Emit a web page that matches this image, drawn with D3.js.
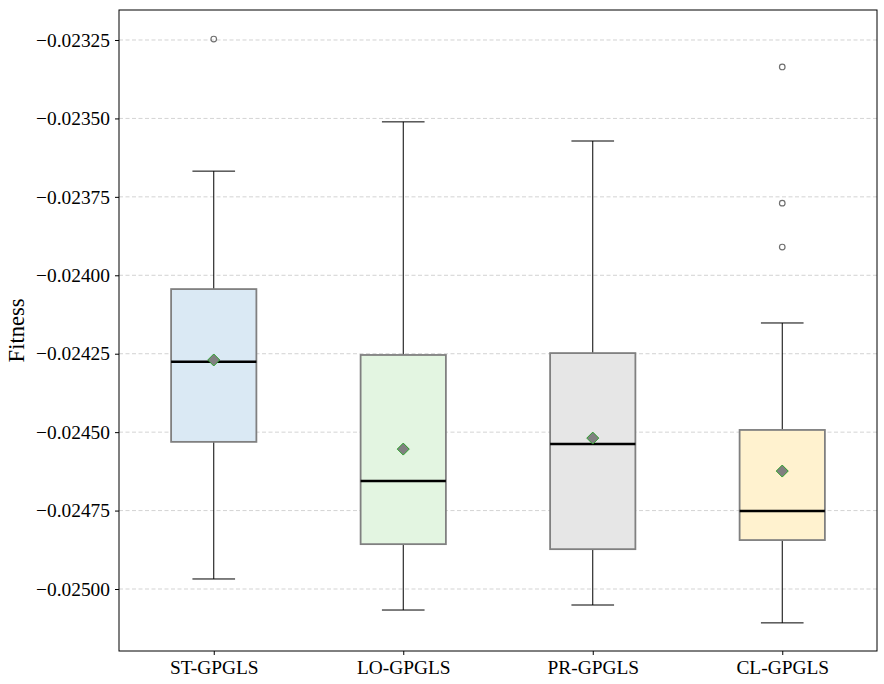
<!DOCTYPE html>
<html>
<head>
<meta charset="utf-8">
<script src="https://cdn.jsdelivr.net/npm/d3@7"></script>
<style>
  body { margin: 0; background: #fff; }
  svg text { font-family: "Liberation Serif", "Times New Roman", serif; }
</style>
</head>
<body>
<svg id="chart" width="884" height="684"></svg>
<script>
// DATA
const methods = ["ST-GPGLS", "LO-GPGLS", "PR-GPGLS", "CL-GPGLS"];
const whiskerHigh = [-0.023668, -0.023511, -0.023572, -0.024152];
const q3 = [-0.024044, -0.024254, -0.024248, -0.024493];
const median = [-0.024276, -0.024656, -0.024538, -0.024751];
const mean = [-0.02427, -0.024554, -0.024519, -0.024624];
const q1 = [-0.024531, -0.024857, -0.024873, -0.024844];
const whiskerLow = [-0.024968, -0.025067, -0.025051, -0.025108];
const outliers = [[-0.023247], [], [], [-0.023336, -0.02377, -0.02391]];
const yTicks = [-0.02325, -0.0235, -0.02375, -0.024, -0.02425, -0.0245, -0.02475, -0.025];
const boxColors = ["#dae9f4", "#e3f5e1", "#e6e6e6", "#fff2cf"];

// LAYOUT
const plotLeft = 119, plotRight = 877, plotTop = 10, plotBottom = 651;
const svg = d3.select("#chart");

const x = d3.scaleLinear().domain([0.5, 4.5]).range([plotLeft, plotRight]);
const y = d3.scaleLinear().domain([-0.0251976, -0.0231544]).range([plotBottom, plotTop]);
const unit = x(2) - x(1);
const boxW = unit * 0.45;
const capW = boxW / 2;

// grid
svg.append("g")
  .selectAll("line")
  .data(yTicks)
  .join("line")
  .attr("x1", plotLeft)
  .attr("x2", plotRight)
  .attr("y1", d => y(d))
  .attr("y2", d => y(d))
  .attr("stroke", "#c8c8c8")
  .attr("stroke-width", 0.8)
  .attr("stroke-dasharray", "4,2.5");

// boxes
methods.forEach((m, i) => {
  const cx = x(i + 1);
  const g = svg.append("g");

  // whiskers
  g.append("line")
    .attr("x1", cx).attr("x2", cx)
    .attr("y1", y(q3[i])).attr("y2", y(whiskerHigh[i]))
    .attr("stroke", "black").attr("stroke-width", 1);
  g.append("line")
    .attr("x1", cx).attr("x2", cx)
    .attr("y1", y(q1[i])).attr("y2", y(whiskerLow[i]))
    .attr("stroke", "black").attr("stroke-width", 1);
  g.append("line")
    .attr("x1", cx - capW / 2).attr("x2", cx + capW / 2)
    .attr("y1", y(whiskerHigh[i])).attr("y2", y(whiskerHigh[i]))
    .attr("stroke", "black").attr("stroke-width", 1);
  g.append("line")
    .attr("x1", cx - capW / 2).attr("x2", cx + capW / 2)
    .attr("y1", y(whiskerLow[i])).attr("y2", y(whiskerLow[i]))
    .attr("stroke", "black").attr("stroke-width", 1);

  // box
  g.append("rect")
    .attr("x", cx - boxW / 2)
    .attr("y", y(q3[i]))
    .attr("width", boxW)
    .attr("height", y(q1[i]) - y(q3[i]))
    .attr("fill", boxColors[i])
    .attr("stroke", "#808080")
    .attr("stroke-width", 1.8);

  // median
  g.append("line")
    .attr("x1", cx - boxW / 2).attr("x2", cx + boxW / 2)
    .attr("y1", y(median[i])).attr("y2", y(median[i]))
    .attr("stroke", "black").attr("stroke-width", 2.5);

  // mean marker
  const my = y(mean[i]);
  g.append("path")
    .attr("d", `M${cx},${my - 6}L${cx + 6},${my}L${cx},${my + 6}L${cx - 6},${my}Z`)
    .attr("fill", "#808080")
    .attr("stroke", "#2ca02c")
    .attr("stroke-width", 1);

  // outliers
  g.selectAll("circle")
    .data(outliers[i])
    .join("circle")
    .attr("cx", cx)
    .attr("cy", d => y(d))
    .attr("r", 2.8)
    .attr("fill", "none")
    .attr("stroke", "#707070")
    .attr("stroke-width", 1.2);
});

// axes
const yAxis = d3.axisLeft(y)
  .tickValues(yTicks)
  .tickFormat(d => d3.format(".5f")(d).replace("-", "\u2212"))
  .tickSize(4)
  .tickPadding(5);
const yg = svg.append("g").attr("transform", `translate(${plotLeft},0)`).call(yAxis);
yg.select(".domain").remove();
yg.selectAll("text").attr("font-size", 19.4).attr("fill", "black");

const xAxis = d3.axisBottom(x)
  .tickValues([1, 2, 3, 4])
  .tickFormat((d, i) => methods[i])
  .tickSize(4)
  .tickPadding(5);
const xg = svg.append("g").attr("transform", `translate(0,${plotBottom})`).call(xAxis);
xg.select(".domain").remove();
xg.selectAll("text").attr("font-size", 19.4).attr("fill", "black");

// frame
svg.append("rect")
  .attr("x", plotLeft).attr("y", plotTop)
  .attr("width", plotRight - plotLeft).attr("height", plotBottom - plotTop)
  .attr("fill", "none").attr("stroke", "black").attr("stroke-width", 1);

// y label
svg.append("text")
  .attr("transform", `translate(24,${(plotTop + plotBottom) / 2}) rotate(-90)`)
  .attr("text-anchor", "middle")
  .attr("font-size", 22.5)
  .text("Fitness");
</script>
</body>
</html>
